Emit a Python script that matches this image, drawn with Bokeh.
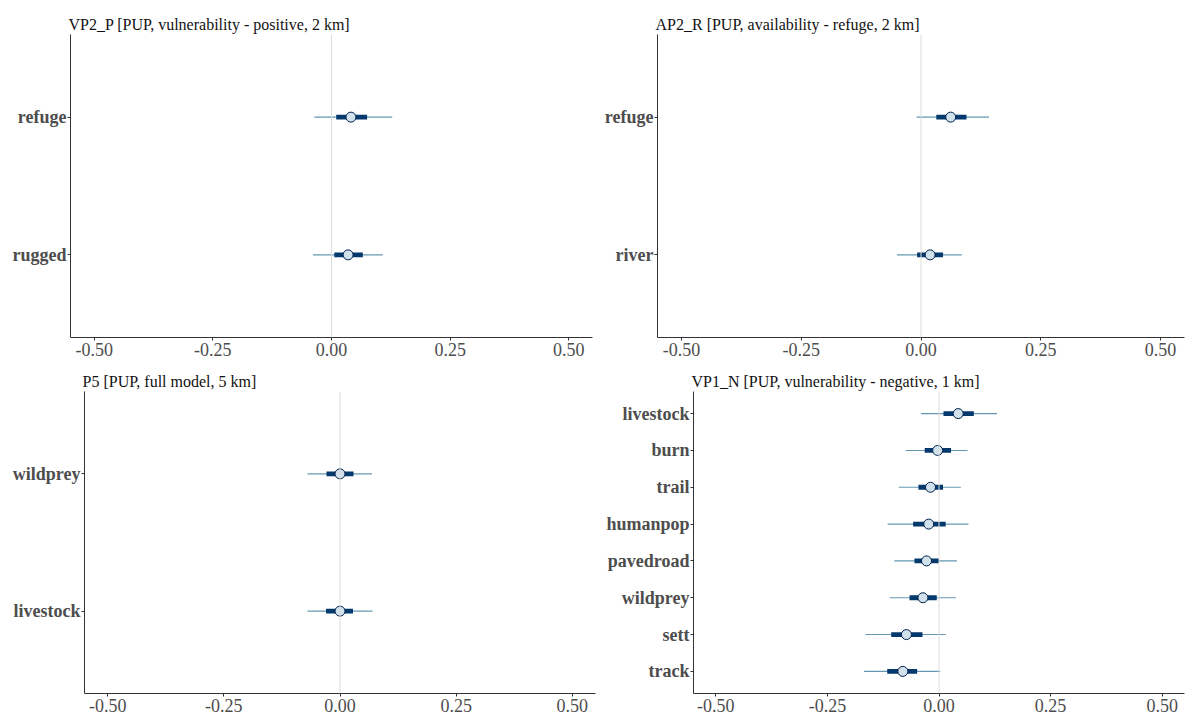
from bokeh.plotting import figure
from bokeh.models import Range1d, FixedTicker, Span, NumeralTickFormatter, ColumnDataSource
from bokeh.layouts import column, row
from bokeh.embed import file_html
from bokeh.resources import INLINE

FONT = "Liberation Serif"

# ---- data (top-to-bottom order within each panel) ----
tl_title = "VP2_P [PUP, vulnerability - positive, 2 km]"
tl_params = ["refuge", "rugged"]
tl_m = [0.041, 0.035]
tl_l = [0.010, 0.006]
tl_h = [0.075, 0.066]
tl_ll = [-0.036, -0.039]
tl_hh = [0.128, 0.108]

tr_title = "AP2_R [PUP, availability - refuge, 2 km]"
tr_params = ["refuge", "river"]
tr_m = [0.062, 0.019]
tr_l = [0.032, -0.008]
tr_h = [0.095, 0.046]
tr_ll = [-0.009, -0.050]
tr_hh = [0.142, 0.085]

bl_title = "P5 [PUP, full model, 5 km]"
bl_params = ["wildprey", "livestock"]
bl_m = [0.000, 0.000]
bl_l = [-0.029, -0.030]
bl_h = [0.029, 0.028]
bl_ll = [-0.070, -0.070]
bl_hh = [0.069, 0.070]

br_title = "VP1_N [PUP, vulnerability - negative, 1 km]"
br_params = ["livestock", "burn", "trail", "humanpop", "pavedroad", "wildprey", "sett", "track"]
br_m = [0.043, -0.003, -0.019, -0.023, -0.028, -0.036, -0.073, -0.081]
br_l = [0.010, -0.032, -0.046, -0.058, -0.055, -0.066, -0.107, -0.116]
br_h = [0.078, 0.027, 0.009, 0.015, 0.000, -0.005, -0.037, -0.049]
br_ll = [-0.040, -0.075, -0.090, -0.115, -0.100, -0.110, -0.165, -0.168]
br_hh = [0.130, 0.064, 0.049, 0.066, 0.040, 0.038, 0.015, 0.003]

x_ticks = [-0.5, -0.25, 0.0, 0.25, 0.5]
x_lim = (-0.55, 0.55)

OUTER = "#6497b1"
INNER = "#03396c"
PT_FILL = "#d1e1ec"
PT_LINE = "#011f4b"


def panel(title, params, m, l, h, ll, hh, fw, fh, bl, br, bt, bb):
    n = len(params)
    ys = [n - i for i in range(n)]
    p = figure(frame_width=fw, frame_height=fh, output_backend="svg", toolbar_location=None,
               x_range=Range1d(*x_lim), y_range=Range1d(0.4, n + 0.6),
               min_border_left=bl, min_border_right=br, min_border_top=bt, min_border_bottom=bb,
               title=title)
    p.title.text_font = FONT
    p.title.text_font_size = "16px"
    p.title.text_font_style = "normal"
    p.title.text_color = "#111111"
    p.title.standoff = 4
    p.title.offset = -2
    p.outline_line_color = None
    p.grid.grid_line_color = None
    p.background_fill_color = "white"
    p.border_fill_color = "white"

    p.add_layout(Span(location=0, dimension="height", line_color="#dcdcdc", line_width=1))

    src = ColumnDataSource(dict(y=ys, m=m, l=l, h=h, ll=ll, hh=hh))
    p.segment(x0="ll", x1="hh", y0="y", y1="y", source=src, line_color=OUTER, line_width=1.1)
    p.segment(x0="l", x1="h", y0="y", y1="y", source=src, line_color=INNER, line_width=4.8)
    p.scatter(x="m", y="y", source=src, size=10, fill_color=PT_FILL, line_color=PT_LINE, line_width=1)

    xa = p.xaxis[0]
    xa.ticker = FixedTicker(ticks=x_ticks)
    xa.formatter = NumeralTickFormatter(format="0.00")
    xa.minor_tick_line_color = None
    xa.major_tick_in = 0
    xa.major_tick_out = 3
    xa.major_label_standoff = 2
    xa.axis_line_color = "#333333"
    xa.major_tick_line_color = "#333333"
    xa.major_label_text_font = FONT
    xa.major_label_text_font_size = "18px"
    xa.major_label_text_color = "#4d4d4d"

    ya = p.yaxis[0]
    ya.ticker = FixedTicker(ticks=ys)
    ya.major_label_overrides = {y: name for y, name in zip(ys, params)}
    ya.minor_tick_line_color = None
    ya.major_tick_in = 0
    ya.major_tick_out = 3
    ya.major_label_standoff = 1
    ya.axis_line_color = "#333333"
    ya.major_tick_line_color = "#333333"
    ya.major_label_text_font = FONT
    ya.major_label_text_font_size = "18px"
    ya.major_label_text_font_style = "bold"
    ya.major_label_text_color = "#4d4d4d"
    return p


p_tl = panel(tl_title, tl_params, tl_m, tl_l, tl_h, tl_ll, tl_hh, 522, 303, 70, 8, 34, 20)
p_tr = panel(tr_title, tr_params, tr_m, tr_l, tr_h, tr_ll, tr_hh, 527, 303, 57, 2, 34, 20)
p_bl = panel(bl_title, bl_params, bl_m, bl_l, bl_h, bl_ll, bl_hh, 511, 302, 84, 5, 33, 20)
p_br = panel(br_title, br_params, br_m, br_l, br_h, br_ll, br_hh, 491, 302, 93, 2, 33, 20)

layout = column(row(p_tl, p_tr, spacing=0), row(p_bl, p_br, spacing=0), spacing=0)

open("out.html", "w").write(file_html(layout, INLINE))
